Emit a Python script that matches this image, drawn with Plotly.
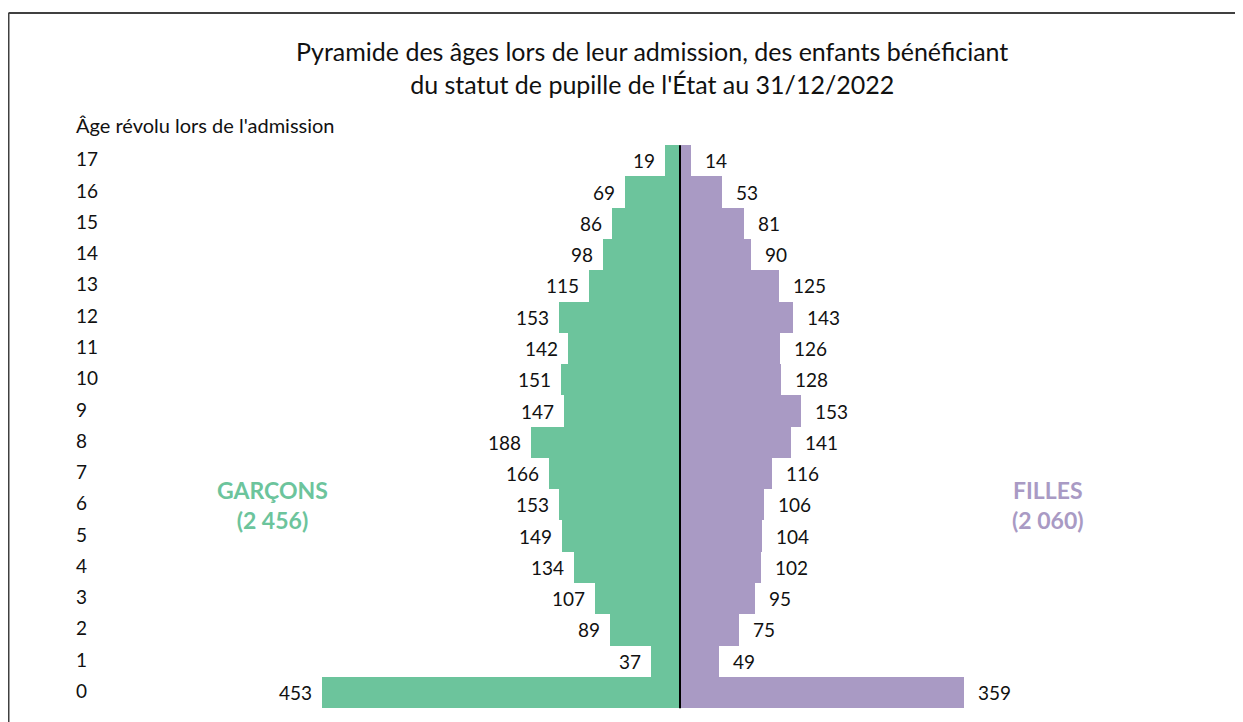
import plotly.graph_objects as go

ages = list(range(18))
garcons = [453, 37, 89, 107, 134, 149, 153, 166, 188, 147, 151, 142, 153, 115, 98, 86, 69, 19]
filles = [359, 49, 75, 95, 102, 104, 106, 116, 141, 153, 128, 126, 143, 125, 90, 81, 53, 14]
total_garcons = "2 456"
total_filles = "2 060"

GREEN = "#6CC49C"
PURPLE = "#A99AC4"
FONT = "Lato"
W, H = 1243, 722
OFF = 8  # page body margin offset
center_px = 680 - OFF
px_per_unit = 0.7905

xr = [-center_px / px_per_unit, (W - center_px) / px_per_unit]
row_h = (708 - 145) / 18.0
y0_center = 692.5 - OFF
yr = [-(H - y0_center) / row_h, 17 + (y0_center - 17 * row_h) / row_h]


def px(x):
    return (x - OFF) / W


def py(y):
    return 1 - (y - OFF) / H


fig = go.Figure()
fig.add_trace(go.Bar(y=ages, x=[-v for v in garcons], orientation="h",
                     marker=dict(color=GREEN, line=dict(width=0)), hoverinfo="skip"))
fig.add_trace(go.Bar(y=ages, x=filles, orientation="h",
                     marker=dict(color=PURPLE, line=dict(width=0)), hoverinfo="skip"))

ann = []
for a, g, f in zip(ages, garcons, filles):
    ann.append(dict(x=-g, y=a, text=str(g), showarrow=False, xanchor="right", yanchor="middle",
                    xshift=-8, font=dict(size=19, color="#111", family=FONT)))
    ann.append(dict(x=f, y=a, text=str(f), showarrow=False, xanchor="left", yanchor="middle",
                    xshift=12, font=dict(size=19, color="#111", family=FONT)))
    ann.append(dict(x=px(74), xref="paper", y=a, text=str(a), showarrow=False,
                    xanchor="left", yanchor="middle", yshift=2,
                    font=dict(size=19, color="#111", family=FONT)))

ann.append(dict(x=px(74), xref="paper", y=py(125), yref="paper",
                text="Âge révolu lors de l'admission", showarrow=False,
                xanchor="left", yanchor="middle",
                font=dict(size=20, color="#111", family=FONT)))
ann.append(dict(x=px(652), xref="paper", y=py(67), yref="paper",
                text="Pyramide des âges lors de leur admission, des enfants bénéficiant<br>du statut de pupille de l'État au 31/12/2022",
                showarrow=False, xanchor="center", yanchor="middle", align="center",
                font=dict(size=25, color="#111", family=FONT)))
ann.append(dict(x=px(272), xref="paper", y=py(505), yref="paper",
                text=f"GARÇONS<br>({total_garcons})", showarrow=False, align="center",
                xanchor="center", yanchor="middle",
                font=dict(size=23, color=GREEN, family=FONT, weight="bold")))
ann.append(dict(x=px(1048), xref="paper", y=py(505), yref="paper",
                text=f"FILLES<br>({total_filles})", showarrow=False, align="center",
                xanchor="center", yanchor="middle",
                font=dict(size=23, color=PURPLE, family=FONT, weight="bold")))

shapes = [
    dict(type="line", xref="x", yref="y", x0=0, x1=0, y0=-0.5, y1=17.5,
         line=dict(color="black", width=2)),
    dict(type="line", xref="paper", yref="paper", x0=px(8.5), x1=1, y0=py(13), y1=py(13),
         line=dict(color="#404040", width=2)),
    dict(type="line", xref="paper", yref="paper", x0=px(8.5), x1=px(8.5), y0=0, y1=py(13),
         line=dict(color="#404040", width=2)),
]

fig.update_layout(
    width=W, height=H, margin=dict(l=0, r=0, t=0, b=0),
    paper_bgcolor="white", plot_bgcolor="white",
    barmode="relative", bargap=0, showlegend=False,
    xaxis=dict(range=xr, visible=False, fixedrange=True),
    yaxis=dict(range=yr, visible=False, fixedrange=True),
    annotations=ann, shapes=shapes,
    font=dict(family=FONT),
)

fig.write_html("out.html")
